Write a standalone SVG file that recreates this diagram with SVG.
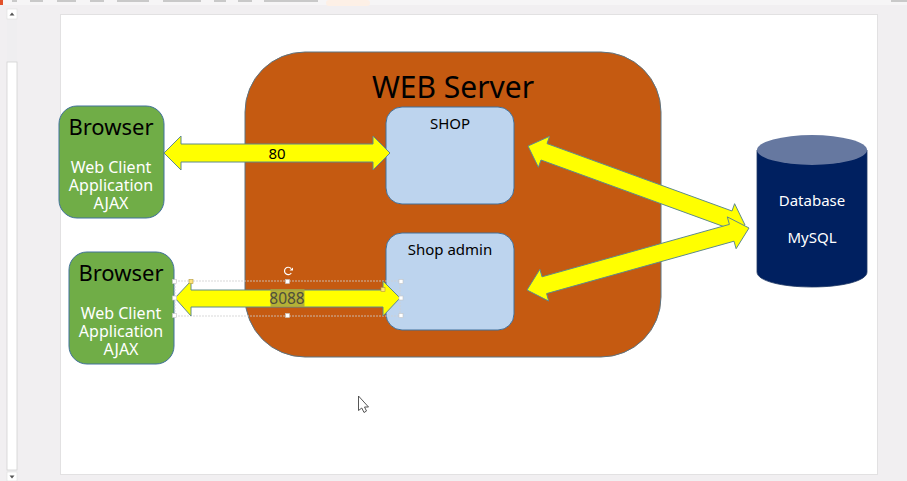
<svg xmlns="http://www.w3.org/2000/svg" width="907" height="481" viewBox="0 0 907 481">
<style>
text{font-family:"Noto Sans","Open Sans","Liberation Sans",sans-serif;text-anchor:middle}
.arrow{fill:#ffff00;stroke:#5f8a8b;stroke-width:1}
.green{fill:#70ad47;stroke:#41719c;stroke-width:1}
.blue{fill:#bdd4ee;stroke:#41719c;stroke-width:1}
.w{fill:#fff;font-size:16px}
.t{fill:#000;font-size:22px}
.k{fill:#000;font-size:15px}
.h{fill:#fff;stroke:#c4c4c4;stroke-width:.6}
.m{fill:#c9c9c9}
</style>
<rect width="907" height="481" fill="#f1eff1"/>
<g id="chrome">
<rect x="0" y="0" width="907" height="5" fill="#f6f5f6"/>
<rect x="0" y="0" width="3" height="5" fill="#e2512a"/>
<rect x="326" y="0" width="44" height="6" rx="3" fill="#fdf0e6"/>
<rect class="m" x="12" y="0" width="5" height="2"/><rect class="m" x="30" y="0" width="13" height="2"/><rect class="m" x="57" y="0" width="19" height="2"/><rect class="m" x="90" y="0" width="14" height="2"/><rect class="m" x="117" y="0" width="32" height="2"/><rect class="m" x="163" y="0" width="38" height="2"/><rect class="m" x="214" y="0" width="12" height="2"/><rect class="m" x="238" y="0" width="14" height="2"/><rect class="m" x="264" y="0" width="54" height="2"/><rect class="m" x="891" y="0" width="16" height="2"/>
<rect x="7" y="9" width="10" height="472" fill="#efeef0"/>
<rect x="7" y="9" width="10" height="10" fill="#fff" stroke="#dcdcdc" stroke-width=".6"/>
<path d="M9.5 15.5h5l-2.500-3z" fill="#555"/>
<rect x="7" y="62" width="10" height="408" fill="#fff" stroke="#d2d2d2" stroke-width=".8"/>
<rect x="7" y="472" width="10" height="9" fill="#fff" stroke="#dcdcdc" stroke-width=".6"/>
<path d="M9.500 475.500h5l-2.500 3z" fill="#555"/>
<rect x="60.500" y="14.500" width="817" height="460" fill="#fff" stroke="#e2e1e2"/>
</g>
<g id="web-server">
<rect x="245" y="52" width="416" height="305" rx="60" fill="#c55a11" stroke="#5d7482"/>
<text x="453" y="98" font-size="30" fill="#000" style="font-size:30px">WEB Server</text>
</g>
<g id="browser-1">
<rect class="green" x="59" y="106" width="105" height="112" rx="18"/>
<text class="t" x="111" y="135">Browser</text>
<text class="w" x="111" y="173">Web Client</text>
<text class="w" x="111" y="191">Application</text>
<text class="w" x="111" y="209">AJAX</text>
</g>
<g id="browser-2">
<rect class="green" x="69" y="252" width="105" height="112" rx="18"/>
<text class="t" x="121" y="281">Browser</text>
<text class="w" x="121" y="319">Web Client</text>
<text class="w" x="121" y="337">Application</text>
<text class="w" x="121" y="355">AJAX</text>
</g>
<g id="shop">
<rect class="blue" x="386" y="107" width="128" height="97" rx="16"/>
<text class="k" x="450" y="129">SHOP</text>
</g>
<g id="shop-admin">
<rect class="blue" x="386" y="233" width="128" height="97" rx="16"/>
<text class="k" x="450" y="255">Shop admin</text>
</g>
<g id="database">
<path d="M757 150V272C757 281 782 287 812 287S867 281 867 272V150Z" fill="#002060" stroke="#1f3864" stroke-width=".8"/>
<ellipse cx="812" cy="150" rx="55" ry="15" fill="#6678a0"/>
<text class="w" x="812" y="206" style="font-size:15px">Database</text>
<text class="w" x="812" y="243" style="font-size:15px">MySQL</text>
</g>
<g id="connectors">
<polygon class="arrow" points="164,153 181,136 181,144 373,144 373,136 390,153 373,170 373,162 181,162 181,170"/>
<text class="k" x="277" y="159">80</text>
<polygon class="arrow" points="549.600,136.300 547,143.600 732,211 734.600,203.700 745,225 723.400,234.700 726,227.400 541,160 538.400,167.300 528,146"/>
<polygon class="arrow" points="539.900,269.300 542,276.800 729.400,224.400 727.300,216.900 749,228 736.100,248.700 734,241.200 546.600,293.600 548.700,301.100 527,290"/>
<rect x="175" y="281" width="225" height="35" fill="none" stroke="#cfcfcf" stroke-width=".8" stroke-dasharray="2 1"/>
<polygon class="arrow" points="175,298 191,281 191,290 383,290 383,281 400,298 383,316 383,307 191,307 191,316"/>
<rect x="270.500" y="289" width="34" height="18" fill="#a8a340" opacity=".85"/>
<text x="287" y="304" fill="#4f4f3a" style="font-size:15.500px">8088</text>
</g>
<g id="selection">
<rect class="h" x="172.500" y="279.500" width="4" height="4"/><rect class="h" x="285.500" y="279.500" width="4" height="4"/><rect class="h" x="399" y="279.500" width="4" height="4"/>
<rect class="h" x="172.500" y="296" width="4" height="4"/><rect class="h" x="399" y="296" width="4" height="4"/>
<rect class="h" x="172.500" y="313.500" width="4" height="4"/><rect class="h" x="285.500" y="313.500" width="4" height="4"/><rect class="h" x="399" y="313.500" width="4" height="4"/>
<rect x="189" y="279.500" width="4" height="4" fill="#ffe37a" stroke="#b59a3a" stroke-width=".6"/>
<rect x="381" y="287.500" width="4" height="4" fill="#ffe37a" stroke="#b59a3a" stroke-width=".6"/>
<path d="M291 268.500A3.700 3.700 0 1 0 291.300 273" fill="none" stroke="#fff" stroke-width="1.200"/>
<path d="M289.500 270.500h3.500v-3z" fill="#fff"/>
</g>
<path id="cursor" d="M358.500 396V410.500L361.800 408L364 412.500L366.500 411L364.500 407H368.500Z" fill="#fff" stroke="#444" stroke-width=".9"/>
</svg>
